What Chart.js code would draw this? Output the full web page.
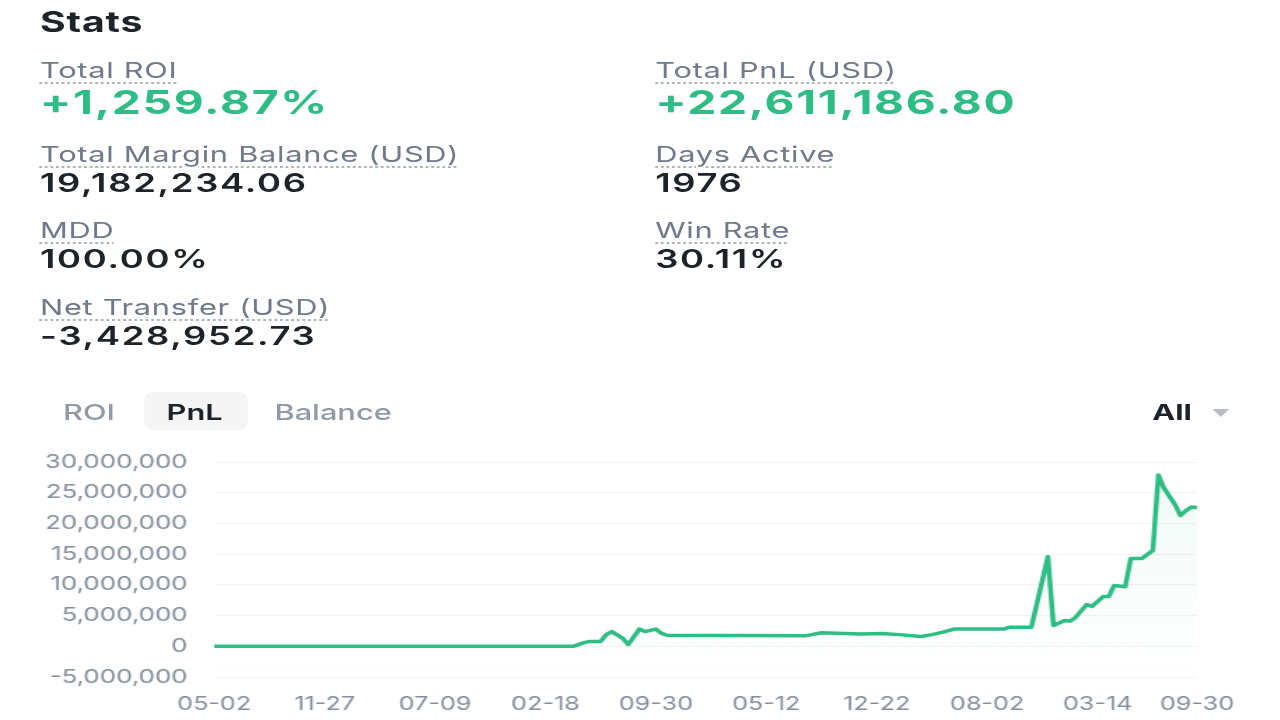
<!DOCTYPE html>
<html>
<head>
<meta charset="utf-8">
<script src="https://cdn.jsdelivr.net/npm/chart.js@4.4.0/dist/chart.umd.min.js"></script>
<style>
html, body { margin: 0; padding: 0; background: #fff; width: 1280px; height: 720px; overflow: hidden; }
/* the reference screenshot is stretched sideways, so the page is laid out narrow and scaled */
#page { position: absolute; left: 0; top: 0; width: 914px; height: 720px; transform: scaleX(1.4); transform-origin: 0 0; font-family: Inter, 'Noto Sans', sans-serif; }
.t { position: absolute; white-space: nowrap; line-height: 1; }
.title { font-size: 28px; font-weight: 700; color: #1e2329; letter-spacing: 0.6px; }
.lbl { font-size: 22px; color: #707a8a; letter-spacing: 0.5px; text-decoration: underline dotted #aeb4bc; text-decoration-thickness: 2px; text-underline-offset: 4px; }
.big { font-size: 33px; font-weight: 700; color: #2ebd85; letter-spacing: 1.2px; }
.val { font-size: 26px; font-weight: 600; color: #1e2329; letter-spacing: 1.2px; }
.tab { font-size: 22px; font-weight: 500; color: #929aa5; }
#pill { position: absolute; left: 103px; top: 392px; width: 74px; height: 38px; background: #f5f5f5; border-radius: 8px; }
#caret { position: absolute; left: 866px; top: 409px; width: 0; height: 0; border-left: 6.5px solid transparent; border-right: 6.5px solid transparent; border-top: 8px solid #b7bdc6; }
#chartBox { position: absolute; left: 0; top: 432px; width: 914px; height: 288px; }
</style>
</head>
<body>
<div id="page">
  <div class="t title" style="left:28.6px;top:8px">Stats</div>

  <div class="t lbl" style="left:28.6px;top:59px">Total ROI</div>
  <div class="t big" style="left:28.6px;top:86px">+1,259.87%</div>
  <div class="t lbl" style="left:28.6px;top:143px">Total Margin Balance (USD)</div>
  <div class="t val" style="left:28.6px;top:170px">19,182,234.06</div>
  <div class="t lbl" style="left:28.6px;top:219px">MDD</div>
  <div class="t val" style="left:28.6px;top:246px">100.00%</div>
  <div class="t lbl" style="left:28.6px;top:296px">Net Transfer (USD)</div>
  <div class="t val" style="left:28.6px;top:323px">-3,428,952.73</div>

  <div class="t lbl" style="left:468px;top:59px">Total PnL (USD)</div>
  <div class="t big" style="left:468px;top:86px">+22,611,186.80</div>
  <div class="t lbl" style="left:468px;top:143px">Days Active</div>
  <div class="t val" style="left:468px;top:170px">1976</div>
  <div class="t lbl" style="left:468px;top:219px">Win Rate</div>
  <div class="t val" style="left:468px;top:246px">30.11%</div>

  <div id="pill"></div>
  <div class="t tab" style="left:45px;top:401px">ROI</div>
  <div class="t tab" style="left:119px;top:401px;color:#1e2329;font-weight:600">PnL</div>
  <div class="t tab" style="left:196px;top:401px">Balance</div>
  <div class="t" style="left:823px;top:401px;font-size:22px;font-weight:700;color:#1e2329">All</div>
  <div id="caret"></div>

  <div id="chartBox"><canvas id="pnlChart"></canvas></div>
</div>

<script>
// x axis: sample index, labels shown at a few of them
const xTickIndex = [0, 20, 40, 60, 80, 100, 120, 140, 160, 178];
const xTickLabels = ['05-02', '11-27', '07-09', '02-18', '09-30', '05-12', '12-22', '08-02', '03-14', '09-30'];

// cumulative PnL (USD) at the line's corners
const sampleIndex = [0, 65, 67, 68, 70, 71, 72, 74, 75, 77, 78, 80, 81, 82, 107, 110, 117, 121, 124, 128,
    130, 132, 134, 143, 144, 148, 151, 152, 154, 155, 156, 158, 159, 161, 162, 163, 165, 166, 168, 170,
    171, 172, 174, 175, 176, 177, 178];
const pnlValues = [0, 0, 600000, 800000, 800000, 1900000, 2400000, 1300000, 300000, 2800000,
    2400000, 2800000, 2100000, 1800000, 1700000, 2200000, 2000000, 2100000, 1900000, 1600000,
    1900000, 2300000, 2800000, 2800000, 3100000, 3100000, 14600000, 3400000, 4200000, 4100000,
    4700000, 6800000, 6500000, 8100000, 8100000, 9900000, 9700000, 14300000, 14300000, 15600000,
    27900000, 25800000, 23100000, 21300000, 22100000, 22700000, 22611187];

const yMin = -5000000;
const yMax = 30000000;
const yStep = 5000000;

const green = '#2ebd85';
const tickColor = '#848e9c';

const points = sampleIndex.map((x, i) => ({ x: x, y: pnlValues[i] }));

const ctx = document.getElementById('pnlChart').getContext('2d');
new Chart(ctx, {
    type: 'line',
    data: {
        datasets: [{
            label: 'PnL',
            data: points,
            borderColor: green,
            borderWidth: 3.5,
            borderJoinStyle: 'round',
            tension: 0,
            pointRadius: 0,
            fill: 'start',
            backgroundColor: (context) => {
                const area = context.chart.chartArea;
                if (!area) return 'rgba(46,189,133,0.04)';
                const g = context.chart.ctx.createLinearGradient(0, area.top, 0, area.bottom);
                g.addColorStop(0, 'rgba(46,189,133,0.07)');
                g.addColorStop(1, 'rgba(46,189,133,0.0)');
                return g;
            }
        }]
    },
    options: {
        responsive: true,
        maintainAspectRatio: false,
        animation: false,
        layout: { padding: { left: 0, right: 59, top: 12, bottom: 0 } },
        plugins: {
            legend: { display: false },
            tooltip: { enabled: false }
        },
        scales: {
            x: {
                type: 'linear',
                min: 0,
                max: 178,
                grid: { display: false },
                border: { display: false },
                afterBuildTicks: (scale) => {
                    scale.ticks = xTickIndex.map(v => ({ value: v }));
                },
                afterFit: (scale) => { scale.height = 43; },
                ticks: {
                    autoSkip: false,
                    maxRotation: 0,
                    padding: 9,
                    color: tickColor,
                    font: { family: 'Inter', size: 18 },
                    callback: (value, index) => xTickLabels[index]
                }
            },
            y: {
                min: yMin,
                max: yMax,
                grid: { color: '#f1f2f3', lineWidth: 1, drawTicks: false },
                border: { display: false },
                afterFit: (scale) => { scale.width = 153; },
                ticks: {
                    stepSize: yStep,
                    padding: 19,
                    color: tickColor,
                    font: { family: 'Inter', size: 18.5 },
                    callback: (value) => value.toLocaleString('en-US')
                }
            }
        }
    }
});
</script>
</body>
</html>
